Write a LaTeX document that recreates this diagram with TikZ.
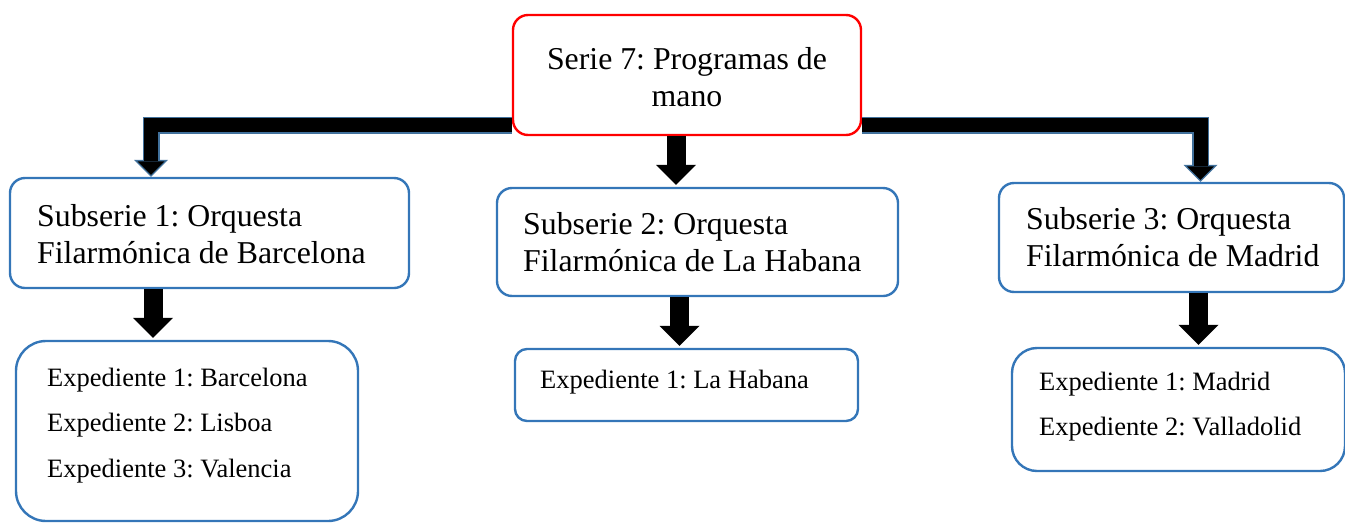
\documentclass[tikz,border=0pt]{standalone}
\usepackage{fontspec}
\setmainfont{Liberation Serif}
\usetikzlibrary{arrows.meta}
\definecolor{boxblue}{RGB}{52,118,184}
\definecolor{arrowrim}{RGB}{65,113,156}
\frenchspacing

\begin{document}
\begin{tikzpicture}
[x=1pt,y=-1pt,%
  boxdecorate/.style={shape=rectangle,draw=boxblue,line width=2.4pt,inner sep=0pt},%
  seriedecorate/.style={boxdecorate,draw=red},%
  bigtext/.style={anchor=base west,align=left,inner sep=0pt,font=\fontsize{31.8}{37.5}\selectfont},%
  smalltext/.style={anchor=base west,align=left,inner sep=0pt,font=\fontsize{26.5}{45.7}\selectfont},%
  blockarrow/.style={line width=19pt,black,-{Triangle[width=40pt,length=20pt,line width=0pt]},shorten >=2pt},%
  elbowarrow/.style={line width=14pt,black,-{Triangle[width=27pt,length=13.5pt,line width=0pt]},shorten >=2pt,
    preaction={draw=arrowrim,line width=17pt,-{Triangle[width=34pt,length=17pt,line width=0pt]},shorten >=0pt}}]
\useasboundingbox (0,0) rectangle (1345,523);
%% boxes
\node (serie) at (687,75) [seriedecorate,minimum width=348,minimum height=120,rounded corners=15] {};
\foreach \nodename/\x/\y/\w/\h/\r in {sub1/209.5/233/399/110/15, sub2/697.5/242/401/108/15,
  sub3/1171.5/237.5/345/109/15, exp1/187/431/342/180/30, exp2/686.5/385/343/72/12,
  exp3/1178.5/409.5/333/123/25}
{
  \node (\nodename) at (\x,\y) [boxdecorate,minimum width=\w,minimum height=\h,rounded corners=\r] {};
}
%% texts (anchored at the baseline of the last line)
\node (serietxt) at (687,106.5) [bigtext,anchor=base,align=center] {Serie 7: Programas de\\mano};
\node (sub1txt) at (37,263.5) [bigtext] {Subserie 1: Orquesta\\Filarmónica de Barcelona};
\node (sub2txt) at (523,271.5) [bigtext] {Subserie 2: Orquesta\\Filarmónica de La Habana};
\node (sub3txt) at (1026,266.5) [bigtext] {Subserie 3: Orquesta\\Filarmónica de Madrid};
\node (exp1txt) at (47,477.4) [smalltext] {Expediente 1: Barcelona\\Expediente 2: Lisboa\\Expediente 3: Valencia};
\node (exp2txt) at (540,388) [smalltext] {Expediente 1: La Habana};
\node (exp3txt) at (1039,435.7) [smalltext] {Expediente 1: Madrid\\Expediente 2: Valladolid};
%% arrows
\draw[elbowarrow] ([yshift=11pt]serie.south west) -| ([xshift=-58.5pt]sub1.north);
\draw[elbowarrow] ([yshift=11pt]serie.south east) -| ([xshift=29pt]sub3.north);
\draw[blockarrow] ([xshift=-11pt]serie.south) -- ([xshift=-11pt]serie.south |- sub2.north);
\path
\foreach \startnode/\endnode/\dx in {sub1/exp1/-56.5, sub2/exp2/-18, sub3/exp3/27} {
  ([xshift=\dx pt]\startnode.south) edge[blockarrow] ([xshift=\dx pt]\startnode.south |- \endnode.north)
};
\end{tikzpicture}
\end{document}
